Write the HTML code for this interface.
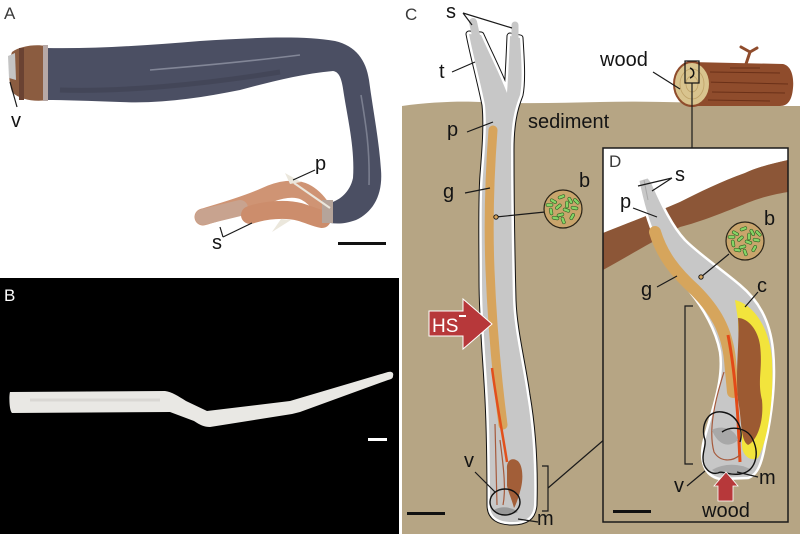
<!DOCTYPE html>
<html><head><meta charset="utf-8"><style>
html,body{margin:0;padding:0;background:#fff;}
svg{display:block;}
text{font-family:"Liberation Sans",Arial,sans-serif;}
.l{font-size:20px;fill:#141414;}
.pl{font-size:17px;fill:#3a3a3a;}
.ln{stroke:#1a1a1a;stroke-width:1.2;fill:none;}
.bac{fill:#86d466;stroke:#2d5d22;stroke-width:0.6;}
</style></head><body>
<svg width="800" height="534" viewBox="0 0 800 534" xmlns="http://www.w3.org/2000/svg">
<rect width="800" height="534" fill="#fff"/>

<!-- ========== PANEL A ========== -->
<text x="4" y="19" class="pl">A</text>
<path d="M45,48 C100,49 150,45 200,41 C250,38 300,35 335,41 C356,46 366,60 369,80 C373,110 379,140 381,170 C383,195 373,212 356,220 C345,224 338,224 330,223 L330,203 C340,200 350,192 353,178 C355,150 348,120 344,95 C342,80 340,72 333,71 C300,74 270,82 240,90 C200,98 160,104 120,102 C90,101 65,100 45,100 Z" fill="#4b4f63"/>
<path d="M150,70 C200,66 260,60 300,55" stroke="#9a9eae" stroke-width="1.6" fill="none" opacity="0.7"/>
<path d="M361,95 C366,125 370,150 369,185" stroke="#9a9eae" stroke-width="1.6" fill="none" opacity="0.6"/>
<path d="M60,90 C120,92 200,85 280,72" stroke="#3b3e4e" stroke-width="5" fill="none" opacity="0.5"/>
<path d="M12,52 C20,46 35,44 46,46 L48,100 C35,102 20,100 12,92 C8,80 8,62 12,52 Z" fill="#8b5c40"/>
<rect x="19" y="48" width="5" height="52" fill="#6a4232"/>
<rect x="43" y="45" width="5" height="56" fill="#b6a8a6"/>
<path d="M8,56 L15,53 L16,80 L9,78 Z" fill="#c4c4c4"/>
<!-- plumes -->
<path d="M203,217 C220,212 245,205 265,196 C280,189 295,187 305,192 C313,196 318,202 322,208" stroke="#cf9474" stroke-width="17" fill="none" stroke-linecap="round"/>
<path d="M203,217 C215,214 228,211 240,208" stroke="#c8a38f" stroke-width="16" fill="none" stroke-linecap="round"/>
<path d="M250,215 C265,210 285,208 300,212 C310,215 316,218 322,219" stroke="#cc8d6c" stroke-width="18" fill="none" stroke-linecap="round"/>
<rect x="322" y="200" width="11" height="23" fill="#b5a49a"/>
<polygon points="285,173 290,184 301,182" fill="#ebe7dc"/>
<path d="M294,183 L330,208" stroke="#ebe7dc" stroke-width="2"/>
<polygon points="272,232 281,219 291,220" fill="#ebe7dc"/>
<text x="11" y="127" class="l">v</text>
<path d="M10,82 L17,107" class="ln"/>
<text x="315" y="170" class="l">p</text>
<path d="M315,170 L293,180" class="ln"/>
<text x="212" y="249" class="l">s</text>
<path d="M223,237 L252,223 M223,237 L220,227" class="ln"/>
<rect x="338" y="242" width="48" height="3" fill="#111"/>

<!-- ========== PANEL B ========== -->
<rect x="0" y="278" width="399" height="256" fill="#000"/>
<text x="4" y="301" class="pl" style="fill:#fff">B</text>
<path d="M10,392 L165,391 C172,392 178,396 186,401 L207,411 L290,401 L388,372 C392,371 394,373 393,376 C393,378 392,379 388,380 L300,412 L292,414 L210,427 C204,427 200,425 194,421 L170,412 L12,413 C9,410 9,395 10,392 Z" fill="#e9e8e4"/>
<path d="M30,400 L160,400" stroke="#cfcdc8" stroke-width="3" opacity="0.6"/>
<rect x="368" y="438" width="19" height="3" fill="#fff"/>

<!-- ========== PANEL C ========== -->
<path d="M402,106 C430,102 460,101 480,102 C520,104 560,103 600,102 C640,101 680,102 720,104 C760,106 780,106 800,106 L800,534 L402,534 Z" fill="#b6a584"/>
<text x="405" y="20" class="pl">C</text>

<path d="M690,62 L783,64 C792,66 794,78 793,88 C792,100 788,106 780,106 L690,106 Z" fill="#8f4c2c"/>
<path d="M710,72 L780,73 M705,82 L788,84 M712,92 L785,93 M708,100 L770,101 M730,68 L760,68" stroke="#6a3018" stroke-width="1" fill="none"/>
<path d="M746,64 L750,52 M750,52 L741,47 M750,52 L757,48" stroke="#8f4c2c" stroke-width="3" fill="none" stroke-linecap="round"/>
<ellipse cx="692" cy="84" rx="18" ry="22" fill="#d9c48e" stroke="#8f4c2c" stroke-width="2"/>
<ellipse cx="692" cy="84" rx="12" ry="15" fill="none" stroke="#bfa268" stroke-width="0.8"/>
<ellipse cx="692" cy="84" rx="6" ry="8" fill="none" stroke="#bfa268" stroke-width="0.8"/>
<rect x="685" y="61" width="14" height="22" fill="none" stroke="#111" stroke-width="1.2"/>
<path d="M690,68 C695,70 695,76 690,78" stroke="#111" stroke-width="1.5" fill="none"/>
<path d="M692,83 L692,148" class="ln"/>
<text x="600" y="66" class="l">wood</text>
<path d="M653,72 L680,89" class="ln"/>
<text x="528" y="128" class="l">sediment</text>

<path d="M469,34 C473,55 480,80 485,105 C487,125 485,150 483,175 C481,200 482,240 482,280 C482,320 486,360 488,400 C490,440 490,480 490,505 C490,518 500,522 512,522 C525,522 533,518 534,505 C535,470 533,430 527,395 C522,360 514,330 513,300 C512,260 511,200 511,150 C511,125 514,110 520,95 C523,80 521,55 520,38 L510,36 C509,60 508,80 507,93 C500,75 490,55 481,35 Z" fill="none" stroke="#111" stroke-width="7" stroke-linejoin="round"/>
<path d="M469,34 C473,55 480,80 485,105 C487,125 485,150 483,175 C481,200 482,240 482,280 C482,320 486,360 488,400 C490,440 490,480 490,505 C490,518 500,522 512,522 C525,522 533,518 534,505 C535,470 533,430 527,395 C522,360 514,330 513,300 C512,260 511,200 511,150 C511,125 514,110 520,95 C523,80 521,55 520,38 L510,36 C509,60 508,80 507,93 C500,75 490,55 481,35 Z" fill="#c7c7c7" stroke="#fff" stroke-width="5" stroke-linejoin="round"/>
<path d="M469,34 C473,55 480,80 485,105 C487,125 485,150 483,175 C481,200 482,240 482,280 C482,320 486,360 488,400 C490,440 490,480 490,505 C490,518 500,522 512,522 C525,522 533,518 534,505 C535,470 533,430 527,395 C522,360 514,330 513,300 C512,260 511,200 511,150 C511,125 514,110 520,95 C523,80 521,55 520,38 L510,36 C509,60 508,80 507,93 C500,75 490,55 481,35 Z" fill="#c7c7c7"/>
<path d="M473,22 L478,45" stroke="#c7c7c7" stroke-width="8" stroke-linecap="round"/>
<path d="M515,25 L515,42" stroke="#c7c7c7" stroke-width="7" stroke-linecap="round"/>
<path d="M493,130 C490,170 488,220 490,270 C492,320 496,370 503,425" stroke="#d7a45c" stroke-width="9" fill="none" stroke-linecap="round"/>
<path d="M492,368 C496,400 502,430 507,462" stroke="#e2501c" stroke-width="2.5" fill="none"/>
<path d="M495,424 L497,505 M500,440 C504,470 506,490 503,505" stroke="#a65a3c" stroke-width="1.2" fill="none"/>
<path d="M507,470 C506,460 512,458 516,460 C522,462 524,475 521,488 C519,496 516,505 514,508 C512,500 509,494 507,486 Z" fill="#a25e38"/>
<path d="M494,510 C500,506 510,506 518,512 C510,516 500,515 494,510 Z" fill="#999"/>
<ellipse cx="505" cy="502" rx="15" ry="13" fill="none" stroke="#111" stroke-width="1.4"/>

<path d="M496,217 L545,212" class="ln"/>
<circle cx="496" cy="217" r="2.2" fill="#d7a45c" stroke="#111" stroke-width="0.9"/>
<circle cx="563" cy="209" r="19" fill="#c9a56c" stroke="#2a2418" stroke-width="1.2"/>
<g transform="translate(563,209)">
<rect class="bac" x="-3" y="-1.5" width="7" height="3" rx="1.5" transform="translate(-10,-8) rotate(30)"/>
<rect class="bac" x="-3" y="-1.5" width="7" height="3" rx="1.5" transform="translate(-2,-12) rotate(-20)"/>
<rect class="bac" x="-3" y="-1.5" width="7" height="3" rx="1.5" transform="translate(7,-9) rotate(60)"/>
<rect class="bac" x="-3" y="-1.5" width="7" height="3" rx="1.5" transform="translate(11,-1) rotate(10)"/>
<rect class="bac" x="-3" y="-1.5" width="7" height="3" rx="1.5" transform="translate(-12,2) rotate(80)"/>
<rect class="bac" x="-3" y="-1.5" width="7" height="3" rx="1.5" transform="translate(-5,-2) rotate(-40)"/>
<rect class="bac" x="-3" y="-1.5" width="7" height="3" rx="1.5" transform="translate(3,1) rotate(20)"/>
<rect class="bac" x="-3" y="-1.5" width="7" height="3" rx="1.5" transform="translate(9,8) rotate(-60)"/>
<rect class="bac" x="-3" y="-1.5" width="7" height="3" rx="1.5" transform="translate(-8,9) rotate(10)"/>
<rect class="bac" x="-3" y="-1.5" width="7" height="3" rx="1.5" transform="translate(0,11) rotate(70)"/>
<rect class="bac" x="-3" y="-1.5" width="7" height="3" rx="1.5" transform="translate(-14,-4) rotate(0)"/>
<rect class="bac" x="-3" y="-1.5" width="7" height="3" rx="1.5" transform="translate(4,-5) rotate(90)"/>
<rect class="bac" x="-3" y="-1.5" width="7" height="3" rx="1.5" transform="translate(-3,6) rotate(-15)"/>
<rect class="bac" x="-3" y="-1.5" width="7" height="3" rx="1.5" transform="translate(13,-8) rotate(45)"/>
</g>
<text x="579" y="187" class="l">b</text>

<path d="M429,311 L463,311 L463,299 L492,324 L463,349 L463,336 L429,336 Z" fill="#b7383a" stroke="#fff" stroke-width="1"/>
<text x="432" y="332" style="font-size:19px;fill:#fff">HS</text>
<rect x="459" y="315" width="7" height="2" fill="#fff"/>

<text x="446" y="18" class="l">s</text>
<path d="M463,13 L472,25 M463,13 L512,28" class="ln"/>
<text x="439" y="78" class="l">t</text>
<path d="M452,72 L475,62" class="ln"/>
<text x="447" y="136" class="l">p</text>
<path d="M467,132 L493,122" class="ln"/>
<text x="443" y="198" class="l">g</text>
<path d="M465,193 L490,188" class="ln"/>
<text x="464" y="467" class="l">v</text>
<path d="M475,472 L495,492" class="ln"/>
<text x="537" y="525" class="l">m</text>
<path d="M518,519 L538,522" class="ln"/>
<path d="M542,466 L548,466 L548,511 L542,511" class="ln"/>
<path d="M548,488 L613,432" class="ln"/>
<text x="614" y="424" class="l">vm</text>
<path d="M643,410 L685,378" class="ln"/>
<rect x="407" y="512" width="38" height="3" fill="#111"/>

<!-- ========== PANEL D ========== -->
<rect x="603" y="148" width="185" height="374" fill="#b6a584"/>
<path d="M603,148 L788,148 L788,160 C770,164 755,168 745,173 C720,182 700,192 680,202 C655,213 630,222 603,233 Z" fill="#fff"/>
<path d="M603,233 C630,222 655,213 680,202 C700,192 720,182 745,173 C755,168 770,164 788,160 L788,192 C770,195 760,198 747,203 C725,212 700,222 680,227 C655,240 630,255 603,270 Z" fill="#8c5637"/>
<rect x="603" y="148" width="185" height="374" fill="none" stroke="#1a1a1a" stroke-width="1.5"/>
<text x="609" y="167" class="pl">D</text>

<path d="M638,180 C642,200 648,222 656,240 C665,258 678,276 690,292 C703,308 716,330 720,352 C724,380 712,410 704,440 C699,460 704,476 720,479 L748,478 C758,475 762,462 765,445 C772,415 776,380 773,350 C770,320 758,300 740,285 C720,268 700,255 685,240 C672,226 662,205 652,182 L648,177 Z" fill="#c7c7c7" stroke="#fff" stroke-width="2.5" stroke-linejoin="round"/>
<path d="M644,180 L648,200" stroke="#a9a9a9" stroke-width="1"/>
<path d="M655,232 C662,255 675,272 695,290 C715,310 727,330 730,360 L733,392" stroke="#d6a55c" stroke-width="12" fill="none" stroke-linecap="round"/>
<path d="M735,300 C755,305 770,330 772,360 C774,400 768,440 758,458 C750,462 742,455 742,445 L738,320 Z" fill="#f2e43c"/>
<path d="M738,318 C748,318 758,330 760,345 C763,370 757,380 762,400 C764,420 758,440 748,445 C740,440 742,420 738,400 C735,370 740,340 738,318 Z" fill="#9c5a32"/>
<path d="M728,335 C733,360 736,390 738,420 L740,462" stroke="#e24a18" stroke-width="3" fill="none"/>
<path d="M724,372 C715,400 708,430 714,452 C720,462 732,462 740,455" stroke="#a65a3c" stroke-width="1.2" fill="none"/>
<path d="M712,430 C720,425 735,428 738,440 C730,448 718,446 712,430 Z" fill="#a8a8a8"/>
<path d="M712,470 C725,462 742,464 752,470 C742,477 722,478 712,470 Z" fill="#a8a8a8"/>
<path d="M705,440 C700,425 708,410 722,412 C737,414 744,430 740,442 M722,432 C732,425 748,428 753,440 C760,455 755,472 740,474 C728,476 722,470 718,473 C710,475 703,468 703,458 C703,450 706,446 705,440" stroke="#111" stroke-width="1.4" fill="none"/>

<path d="M701,277 L729,254" class="ln"/>
<circle cx="701" cy="277" r="2.2" fill="#d6a55c" stroke="#111" stroke-width="0.9"/>
<circle cx="745" cy="241" r="19" fill="#c9a56c" stroke="#2a2418" stroke-width="1.2"/>
<g transform="translate(745,241)">
<rect class="bac" x="-3" y="-1.5" width="7" height="3" rx="1.5" transform="translate(-10,-8) rotate(30)"/>
<rect class="bac" x="-3" y="-1.5" width="7" height="3" rx="1.5" transform="translate(-2,-12) rotate(-20)"/>
<rect class="bac" x="-3" y="-1.5" width="7" height="3" rx="1.5" transform="translate(7,-9) rotate(60)"/>
<rect class="bac" x="-3" y="-1.5" width="7" height="3" rx="1.5" transform="translate(11,-1) rotate(10)"/>
<rect class="bac" x="-3" y="-1.5" width="7" height="3" rx="1.5" transform="translate(-12,2) rotate(80)"/>
<rect class="bac" x="-3" y="-1.5" width="7" height="3" rx="1.5" transform="translate(-5,-2) rotate(-40)"/>
<rect class="bac" x="-3" y="-1.5" width="7" height="3" rx="1.5" transform="translate(3,1) rotate(20)"/>
<rect class="bac" x="-3" y="-1.5" width="7" height="3" rx="1.5" transform="translate(9,8) rotate(-60)"/>
<rect class="bac" x="-3" y="-1.5" width="7" height="3" rx="1.5" transform="translate(-8,9) rotate(10)"/>
<rect class="bac" x="-3" y="-1.5" width="7" height="3" rx="1.5" transform="translate(0,11) rotate(70)"/>
<rect class="bac" x="-3" y="-1.5" width="7" height="3" rx="1.5" transform="translate(-14,-4) rotate(0)"/>
<rect class="bac" x="-3" y="-1.5" width="7" height="3" rx="1.5" transform="translate(4,-5) rotate(90)"/>
<rect class="bac" x="-3" y="-1.5" width="7" height="3" rx="1.5" transform="translate(-3,6) rotate(-15)"/>
<rect class="bac" x="-3" y="-1.5" width="7" height="3" rx="1.5" transform="translate(13,-8) rotate(45)"/>
</g>
<text x="764" y="225" class="l">b</text>

<text x="675" y="181" class="l">s</text>
<path d="M672,178 L638,186 M672,178 L652,191" class="ln"/>
<text x="620" y="208" class="l">p</text>
<path d="M633,208 L657,217" class="ln"/>
<text x="641" y="296" class="l">g</text>
<path d="M657,287 L677,276" class="ln"/>
<text x="757" y="292" class="l">c</text>
<path d="M745,307 L758,292" class="ln"/>
<path d="M693,306 L685,306 L685,464 L693,464" class="ln"/>
<text x="674" y="492" class="l">v</text>
<path d="M687,486 L705,471" class="ln"/>
<text x="759" y="484" class="l">m</text>
<path d="M758,477 L737,472" class="ln"/>
<path d="M718,501 L733,501 L733,486 L738,486 L726,472 L714,486 L718,486 Z" fill="#b7383a" stroke="#fff" stroke-width="0.8"/>
<text x="702" y="517" class="l">wood</text>
<rect x="613" y="510" width="38" height="3" fill="#111"/>
</svg>
</body></html>
